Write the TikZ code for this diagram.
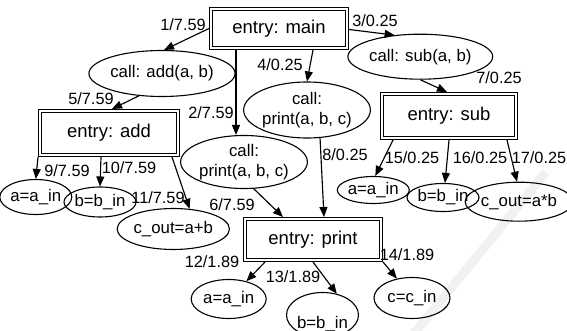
\documentclass[tikz,border=0pt]{standalone}
\usepackage{fontspec}
\setmainfont{Liberation Sans}
\usetikzlibrary{arrows.meta,shapes.geometric}
\begin{document}
\begin{tikzpicture}[x=1pt,y=-1pt,
  entrybox/.style={draw, double, double distance=2pt, line width=0.9pt,
    outer sep=1.9pt, inner sep=0pt, font=\fontsize{18.5}{22}\selectfont},
  leaf/.style={draw, ellipse, line width=1.1pt, inner sep=0pt, align=center,
    font=\fontsize{16.8}{19.5}\selectfont},
  txt/.style={inner sep=0pt, font=\fontsize{16.8}{19.5}\selectfont},
  lbl/.style={inner sep=0pt, font=\fontsize{16.3}{19}\selectfont},
  arr/.style={draw, line width=1.15pt, -{Triangle[length=10pt,width=8pt]}}]
\useasboundingbox (0,0) rectangle (567,331);
\clip (0,0) rectangle (567,331);

% faint diagonal stripe in the background
\draw[line width=9pt, gray!11] (412,336) -- (546,172);

% procedure entries
\node[entrybox, minimum width=136.2pt, minimum height=39.2pt] (main)   at (279,28.5) {entry: main};
\node[entrybox, minimum width=138.2pt, minimum height=44.2pt] (add)    at (109,133)  {entry: add};
\node[entrybox, minimum width=134.2pt, minimum height=44.2pt] (sub)    at (449,116)  {entry: sub};
\node[entrybox, minimum width=136.2pt, minimum height=41.2pt] (print)  at (313,239.5) {entry: print};

% call sites
\node[leaf, minimum width=140pt, minimum height=46pt] (cadd)    at (162,73.5) {call: add(a, b)};
\node[leaf, minimum width=125pt, minimum height=45pt] (csub)    at (420.3,56.7) {call: sub(a, b)};
\node[leaf, minimum width=124pt, minimum height=53pt] (cprintA) at (244,162) {call:\\print(a, b, c)};
\node[leaf, minimum width=126pt, minimum height=56pt] (cprintB) at (307,110) {call:\\print(a, b, c)};

% assignments in add
\node[leaf, minimum width=57pt, minimum height=35pt] (addA) at (35.8,197) {a=a\_in};
\node[leaf, minimum width=66pt, minimum height=30pt] (addB) at (100,202) {b=b\_in};
\node[leaf, minimum width=98pt, minimum height=41pt] (addC) at (173.3,229) {c\_out=a+b};

% assignments in sub
\node[leaf, minimum width=64pt, minimum height=27pt] (subA) at (373.3,190) {a=a\_in};
\node[leaf, minimum width=58pt, minimum height=28pt] (subB) at (443,197.5) {b=b\_in};
\node[leaf, minimum width=92pt, minimum height=39pt] (subC) at (519,201.7) {c\_out=a*b};

% assignments in print
\node[leaf, minimum width=75pt, minimum height=39pt] (prA) at (228.7,299) {a=a\_in};
\node[leaf, minimum width=72pt, minimum height=45pt] (prB) at (322.5,315) {};
\node[txt] (prBtext) at (322.5,324.5) {b=b\_in};
\node[leaf, minimum width=76pt, minimum height=41pt] (prC) at (412,298) {c=c\_in};

% edges with their labels
\draw[arr] (main.west) -- (cadd.85) node[lbl] at (183,25) {1/7.59};
\draw[arr] ([xshift=-43pt]main.south) -- ([xshift=-8pt]cprintA.north) node[lbl] at (211,113) {2/7.59};
\draw[arr] ([yshift=-1pt]main.east) -- (csub.140) node[lbl] at (375,21) {3/0.25};
\draw[arr] ([xshift=34pt]main.south) -- (cprintB.north) node[lbl] at (280,65) {4/0.25};
\draw[arr] (cadd.224) -- ([xshift=3pt]add.north) node[lbl] at (91,99) {5/7.59};
\draw[arr] (cprintA.290) -- ([xshift=-30pt]print.north) node[lbl] at (232,205) {6/7.59};
\draw[arr] (csub.south) -- ([xshift=-2pt]sub.north) node[lbl] at (499,78) {7/0.25};
\draw[arr] (cprintB.295) -- ([xshift=11pt]print.north) node[lbl] at (345,155) {8/0.25};

\draw[arr] (add.south west) -- (addA.north) node[lbl] at (67,171) {9/7.59};
\draw[arr] ([xshift=-8pt]add.south) -- (addB.north) node[lbl] at (129,168) {10/7.59};
\draw[arr] ([xshift=-8pt]add.south east) -- (addC.51) node[lbl] at (158,198) {11/7.59};

\draw[arr] ([xshift=-48pt]print.south) -- (prA.45) node[lbl] at (212,262) {12/1.89};
\draw[arr] (print.south) -- (prB.56) node[lbl] at (293,277) {13/1.89};
\draw[arr] (print.south east) -- (prC.128) node[lbl] at (407,255) {14/1.89};

\draw[arr] ([xshift=13pt]sub.south west) -- ([xshift=2pt]subA.north) node[lbl] at (412,158) {15/0.25};
\draw[arr] (sub.south) -- ([xshift=2pt]subB.north) node[lbl] at (480,158) {16/0.25};
\draw[arr] ([xshift=-11pt]sub.south east) -- ([xshift=-2pt]subC.north) node[lbl] at (539,158) {17/0.25};
\end{tikzpicture}
\end{document}
